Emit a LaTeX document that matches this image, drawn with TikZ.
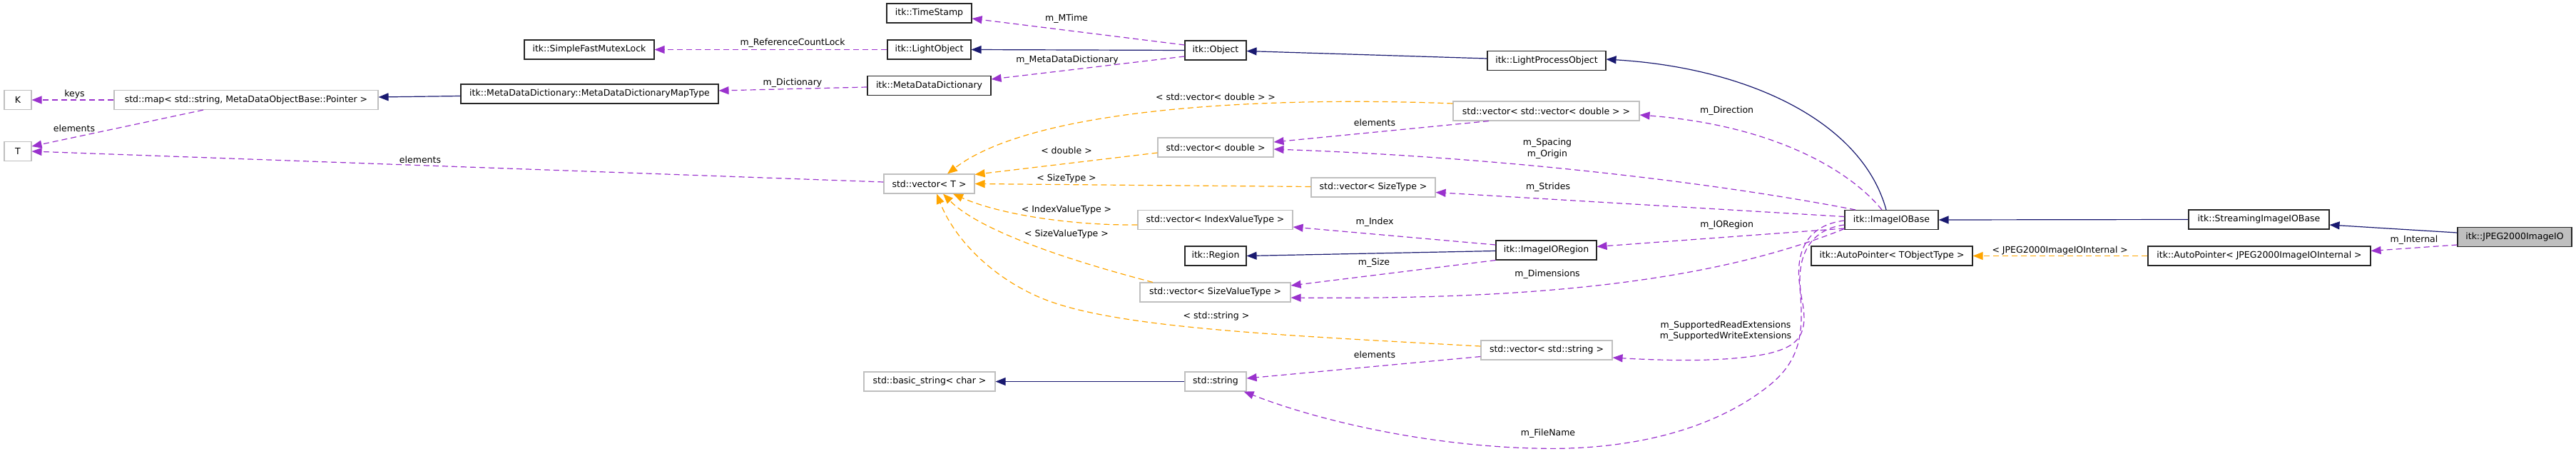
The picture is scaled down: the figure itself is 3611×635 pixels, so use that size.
\documentclass[tikz,border=0pt]{standalone}
\usepackage{fontspec}
\setmainfont{DejaVu Sans}
\usetikzlibrary{arrows.meta}
\definecolor{edgepurple}{HTML}{9A32CD}
\definecolor{edgeorange}{HTML}{FFA500}
\definecolor{edgenavy}{HTML}{191970}
\definecolor{boxgray}{HTML}{BFBFBF}
\begin{document}
\begin{tikzpicture}[x=1pt,y=-1pt,
  font=\fontsize{12.5}{15.7}\selectfont,
  docbox/.style={draw=black!85, line width=1.1pt, minimum height=27pt, inner sep=0pt, fill=white},
  undocbox/.style={draw=boxgray, line width=1.1pt, minimum height=27pt, inner sep=0pt, fill=white},
  curbox/.style={docbox, fill=boxgray},
  lbl/.style={inner sep=0pt, align=center},
  tip/.style={-{Triangle[length=14pt,width=11pt]}},
  usage/.style={draw=edgepurple, line width=1.2pt, dash pattern=on 8pt off 5pt, tip},
  templ/.style={draw=edgeorange, line width=1.2pt, dash pattern=on 8pt off 5pt, tip},
  inherit/.style={draw=edgenavy, line width=1.2pt, tip}]
\useasboundingbox (0,0) rectangle (3611,635);

% nodes
\node[undocbox, minimum width=38pt] (K) at (25,140) {K};
\node[undocbox, minimum width=38pt] (T) at (25,212) {T};
\node[undocbox, minimum width=370pt] (map) at (345,140) {std::map< std::string, MetaDataObjectBase::Pointer >};
\node[docbox, minimum width=182pt] (sfml) at (826,69.5) {itk::SimpleFastMutexLock};
\node[docbox, minimum width=361pt] (mddmt) at (826.5,131.5) {itk::MetaDataDictionary::MetaDataDictionaryMapType};
\node[docbox, minimum width=119pt] (ts) at (1302.5,18.5) {itk::TimeStamp};
\node[docbox, minimum width=117pt] (lo) at (1302.5,69.5) {itk::LightObject};
\node[docbox, minimum width=173pt] (mdd) at (1302.5,120) {itk::MetaDataDictionary};
\node[docbox, minimum width=86pt] (obj) at (1704,70.5) {itk::Object};
\node[undocbox, minimum width=127pt] (vecT) at (1302.5,257.5) {std::vector< T >};
\node[undocbox, minimum width=184pt] (bstr) at (1303,534.5) {std::basic\_string< char >};
\node[undocbox, minimum width=261pt] (vvd) at (2167.5,155.5) {std::vector< std::vector< double > >};
\node[undocbox, minimum width=162pt] (vd) at (1704,206.5) {std::vector< double >};
\node[undocbox, minimum width=174pt] (vst) at (1925,262.5) {std::vector< SizeType >};
\node[undocbox, minimum width=217pt] (vivt) at (1703.5,308) {std::vector< IndexValueType >};
\node[docbox, minimum width=86pt] (region) at (1704,358.5) {itk::Region};
\node[undocbox, minimum width=211pt] (vsvt) at (1703.5,409.5) {std::vector< SizeValueType >};
\node[undocbox, minimum width=86pt] (sstr) at (1704,534.5) {std::string};
\node[docbox, minimum width=166pt] (lpo) at (2168,85) {itk::LightProcessObject};
\node[docbox, minimum width=141pt] (ior) at (2167.5,350.5) {itk::ImageIORegion};
\node[undocbox, minimum width=184pt] (vs) at (2168,490.5) {std::vector< std::string >};
\node[docbox, minimum width=131pt] (iiob) at (2651.5,308) {itk::ImageIOBase};
\node[docbox, minimum width=226pt] (apt) at (2652,358.5) {itk::AutoPointer< TObjectType >};
\node[docbox, minimum width=197pt] (sib) at (3166.5,307.5) {itk::StreamingImageIOBase};
\node[docbox, minimum width=312pt] (apj) at (3167,358.5) {itk::AutoPointer< JPEG2000ImageIOInternal >};
\node[curbox, minimum width=160pt] (jpeg) at (3525,332) {itk::JPEG2000ImageIO};

% edges
\draw[usage] (map.west) -- (K.east);
\draw[usage] ([xshift=-60pt]map.south) -- ([yshift=7pt]T.east);
\draw[usage] ([yshift=2.5pt]vecT.west) -- (T.east);
\draw[inherit] ([yshift=-3pt]mddmt.west) -- ([yshift=4pt]map.east);
\draw[usage] ([yshift=-2pt]mdd.west) -- ([yshift=4.5pt]mddmt.east);
\draw[usage] (lo.west) -- (sfml.east);
\draw[inherit] (obj.west) -- (lo.east);
\draw[usage] ([yshift=7.5pt]obj.west) -- ([yshift=-7.5pt]ts.east);
\draw[usage] ([yshift=-8.5pt]obj.west) -- ([yshift=9pt]mdd.east);
\draw[inherit] ([yshift=3pt]lpo.west) -- ([yshift=-1pt]obj.east);
\draw[inherit] ([xshift=-7.5pt]iiob.north) .. controls (2610,170) and (2450,95) .. ([yshift=2pt]lpo.east);
\draw[inherit] (sib.west) -- (iiob.east);
\draw[inherit] ([yshift=6pt]jpeg.west) -- ([yshift=-7.5pt]sib.east);
\draw[usage] ([yshift=-11pt]jpeg.west) -- ([yshift=7pt]apj.east);
\draw[templ] (apj.west) -- (apt.east);
\draw[templ] ([yshift=10.5pt]vvd.west) .. controls (1780,135) and (1450,150) .. ([xshift=25.5pt]vecT.north);
\draw[usage] ([xshift=-80.5pt]vvd.south) -- ([yshift=7.5pt]vd.east);
\draw[templ] ([yshift=-7.5pt]vd.west) -- ([yshift=-1pt]vecT.north east);
\draw[templ] ([yshift=1pt]vst.west) -- (vecT.east);
\draw[templ] ([yshift=-7pt]vivt.west) .. controls (1500,316) and (1400,300) .. ([xshift=33.5pt]vecT.south);
\draw[templ] ([xshift=-87.5pt]vsvt.north) .. controls (1480,360) and (1370,320) .. ([xshift=19.5pt]vecT.south);
\draw[templ] ([yshift=5.5pt]vs.west) .. controls (1800,470) and (1580,460) .. (1474,423)
   .. controls (1400,397) and (1340,340) .. ([xshift=10.5pt]vecT.south);
\draw[usage] ([yshift=-9pt]vs.west) -- ([yshift=4.5pt]sstr.east);
\draw[inherit] (sstr.west) -- (bstr.east);
\draw[usage] ([xshift=-13.5pt]iiob.north) .. controls (2590,235) and (2480,175) .. ([yshift=-5.5pt]vvd.east);
\draw[usage] ([xshift=-50.5pt]iiob.north) .. controls (2400,255) and (2100,220) .. ([yshift=-2.5pt]vd.east);
\draw[usage] ([yshift=4.5pt]iiob.west) -- ([yshift=-7pt]vst.east);
\draw[usage] ([yshift=7.5pt]ior.west) -- ([yshift=-10pt]vivt.east);
\draw[inherit] ([yshift=-1pt]ior.west) -- (region.east);
\draw[usage] (ior.south west) -- ([yshift=9.5pt]vsvt.east);
\draw[usage] ([yshift=-12pt]iiob.west) -- ([yshift=5pt]ior.east);
\draw[usage] ([yshift=-12.5pt]iiob.west) .. controls (2400,395) and (2150,420) .. ([yshift=-7.5pt]vsvt.east);
\draw[usage] ([yshift=-7pt]iiob.west) .. controls (2530,322) and (2516,370) .. (2526,420)
   .. controls (2536,470) and (2520,485) .. (2480,495)
   .. controls (2420,508) and (2330,505) .. ([yshift=-10.5pt]vs.east);
\draw[usage] ([yshift=-1pt]iiob.west) .. controls (2535,315) and (2518,350) .. (2522,393)
   .. controls (2528,455) and (2530,500) .. (2480,540)
   .. controls (2400,604) and (2280,632) .. (2150,628)
   .. controls (2000,624) and (1850,590) .. ([xshift=-4pt]sstr.south east);

% labels
\node[lbl] (l1) at (104.5,131.7) {keys};
\node[lbl] (l2) at (104,180) {elements};
\node[lbl] (l3) at (589,223.7) {elements};
\node[lbl] (l4) at (1111,116) {m\_Dictionary};
\node[lbl] (l5) at (1111,60.7) {m\_ReferenceCountLock};
\node[lbl] (l6) at (1495,26.7) {m\_MTime};
\node[lbl] (l7) at (1496,84) {m\_MetaDataDictionary};
\node[lbl] (l8) at (1704,135.7) {< std::vector< double > >};
\node[lbl] (l9) at (1495,211) {< double >};
\node[lbl] (l10) at (1495,250) {< SizeType >};
\node[lbl] (l11) at (1495,294) {< IndexValueType >};
\node[lbl] (l12) at (1495,327.7) {< SizeValueType >};
\node[lbl] (l13) at (1705,442.7) {< std::string >};
\node[lbl] (l14) at (1927,171.7) {elements};
\node[lbl] (l15) at (2420.6,155.7) {m\_Direction};
\node[lbl] (l16) at (2169,208) {m\_Spacing\\m\_Origin};
\node[lbl] (l17) at (2170,262.7) {m\_Strides};
\node[lbl] (l18) at (1927,311.7) {m\_Index};
\node[lbl] (l19) at (2420.6,315) {m\_IORegion};
\node[lbl] (l20) at (1926,368.7) {m\_Size};
\node[lbl] (l21) at (2169,384) {m\_Dimensions};
\node[lbl] (l22) at (2419,463.7) {m\_SupportedReadExtensions\\m\_SupportedWriteExtensions};
\node[lbl] (l23) at (1927,496.7) {elements};
\node[lbl] (l24) at (2170,607) {m\_FileName};
\node[lbl] (l25) at (3384,336.7) {m\_Internal};
\node[lbl] (l26) at (2887.7,350.7) {< JPEG2000ImageIOInternal >};
\end{tikzpicture}
\end{document}
